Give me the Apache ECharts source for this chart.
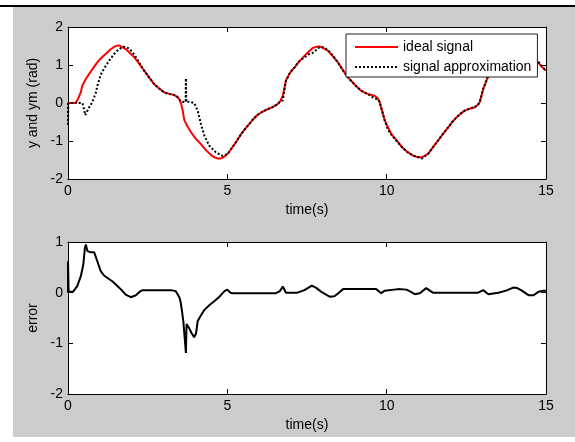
<!DOCTYPE html>
<html>
<head>
<meta charset="utf-8">
<script src="https://cdn.jsdelivr.net/npm/echarts@6/dist/echarts.min.js"></script>
<style>
  html, body { margin: 0; padding: 0; background: #fff; }
  #chart { width: 575px; height: 442px; }
</style>
</head>
<body>
<div id="chart"></div>
<script>
// ideal signal y(t)
const tIdeal = [0, 0.24, 0.32, 0.40, 0.45, 0.55, 0.66, 0.80, 0.92, 1.05,
  1.18, 1.32, 1.45, 1.55, 1.62, 1.70, 1.81, 1.95, 2.08, 2.24,
  2.39, 2.55, 2.70, 2.86, 3.02, 3.18, 3.33, 3.42, 3.49, 3.55,
  3.60, 3.65, 3.75, 3.86, 4.00, 4.17, 4.33, 4.49, 4.60, 4.70,
  4.80, 4.91, 5.02, 5.12, 5.28, 5.43, 5.56, 5.69, 5.82, 5.95,
  6.10, 6.27, 6.42, 6.58, 6.66, 6.74, 6.84, 6.97, 7.11, 7.26,
  7.42, 7.55, 7.68, 7.80, 7.89, 8.00, 8.15, 8.30, 8.47, 8.62,
  8.78, 9.00, 9.20, 9.40, 9.62, 9.72, 9.78, 9.86, 9.94, 10.04,
  10.15, 10.36, 10.50, 10.67, 10.82, 10.98, 11.10, 11.30, 11.45, 11.61,
  11.77, 11.93, 12.06, 12.19, 12.32, 12.45, 12.60, 12.77, 12.86, 12.92,
  13.03, 13.19, 13.40, 13.70, 14.00, 14.20, 14.45, 14.70, 14.85, 15.00];
const yIdeal = [0, 0, 0.12, 0.28, 0.46, 0.62, 0.76, 0.93, 1.07, 1.19,
  1.29, 1.40, 1.48, 1.51, 1.51, 1.47, 1.42, 1.31, 1.20, 1.03,
  0.85, 0.67, 0.50, 0.38, 0.28, 0.24, 0.21, 0.17, 0.10, -0.02,
  -0.20, -0.45, -0.62, -0.77, -0.93, -1.08, -1.24, -1.37, -1.43, -1.46,
  -1.46, -1.41, -1.33, -1.21, -1.02, -0.82, -0.68, -0.55, -0.42, -0.31,
  -0.23, -0.16, -0.11, -0.03, 0.05, 0.19, 0.59, 0.80, 0.94, 1.10,
  1.24, 1.35, 1.45, 1.48, 1.49, 1.45, 1.38, 1.24, 1.07, 0.87,
  0.68, 0.48, 0.32, 0.24, 0.19, 0.13, 0.02, -0.22, -0.45, -0.64,
  -0.82, -1.03, -1.18, -1.30, -1.38, -1.43, -1.43, -1.34, -1.17, -0.99,
  -0.81, -0.64, -0.50, -0.38, -0.28, -0.20, -0.15, -0.11, -0.05, 0.02,
  0.37, 0.72, 1.00, 1.30, 1.46, 1.50, 1.40, 1.12, 0.97, 0.85];

// signal approximation ym(t)
const tApprox = [0, 0, 0.01, 0.45, 0.50, 0.54, 0.60, 0.66, 0.71, 0.76,
  0.82, 0.87, 0.92, 1.03, 1.14, 1.24, 1.35, 1.45, 1.55, 1.65,
  1.74, 1.83, 1.92, 2.00, 2.08, 2.16, 2.24, 2.39, 2.55, 2.70,
  2.86, 3.02, 3.18, 3.33, 3.42, 3.49, 3.55, 3.69, 3.70, 3.71,
  3.80, 3.96, 4.07, 4.17, 4.28, 4.43, 4.64, 4.85, 5.01, 5.12,
  5.28, 5.43, 5.56, 5.69, 5.82, 5.95, 6.10, 6.27, 6.42, 6.58,
  6.66, 6.74, 6.84, 6.97, 7.11, 7.26, 7.42, 7.55, 7.68, 7.80,
  7.89, 8.00, 8.15, 8.30, 8.47, 8.62, 8.78, 9.00, 9.20, 9.40,
  9.62, 9.72, 9.78, 9.86, 9.94, 10.04, 10.15, 10.36, 10.50, 10.67,
  10.82, 10.98, 11.10, 11.30, 11.45, 11.61, 11.77, 11.93, 12.06, 12.19,
  12.32, 12.45, 12.60, 12.77, 12.86, 12.92, 13.03, 13.19, 13.40, 13.70,
  14.00, 14.20, 14.45, 14.70, 14.85, 15.00];
const yApprox = [0, -0.60, 0, 0, -0.15, -0.32, -0.22, -0.12, -0.07, 0.02,
  0.15, 0.26, 0.45, 0.75, 0.92, 1.05, 1.18, 1.29, 1.38, 1.44,
  1.48, 1.47, 1.43, 1.36, 1.27, 1.17, 1.05, 0.85, 0.67, 0.50,
  0.38, 0.28, 0.24, 0.21, 0.17, 0.10, 0.04, 0.02, 0.65, 0.03,
  0.03, 0.00, -0.20, -0.55, -0.86, -1.12, -1.30, -1.39, -1.34, -1.21,
  -1.02, -0.82, -0.68, -0.55, -0.42, -0.31, -0.23, -0.16, -0.11, -0.03,
  0.04, 0.07, 0.59, 0.80, 0.94, 1.10, 1.20, 1.28, 1.32, 1.40,
  1.47, 1.47, 1.40, 1.26, 1.07, 0.87, 0.68, 0.48, 0.32, 0.24,
  0.12, 0.10, 0.03, -0.22, -0.47, -0.70, -0.84, -1.05, -1.18, -1.30,
  -1.38, -1.42, -1.46, -1.34, -1.17, -0.99, -0.81, -0.64, -0.50, -0.38,
  -0.28, -0.20, -0.15, -0.10, -0.05, 0.02, 0.37, 0.72, 1.00, 1.28,
  1.42, 1.48, 1.42, 1.14, 0.99, 0.84];

// error = y - ym
const tErr = [0, 0, 0.02, 0.16, 0.29, 0.40, 0.48, 0.53, 0.56, 0.61,
  0.70, 0.82, 0.92, 1.03, 1.13, 1.24, 1.40, 1.55, 1.70, 1.81,
  1.97, 2.13, 2.25, 2.34, 2.70, 3.23, 3.38, 3.44, 3.50, 3.54,
  3.58, 3.62, 3.68, 3.70, 3.72, 3.80, 3.88, 3.96, 4.02, 4.07,
  4.17, 4.28, 4.45, 4.59, 4.75, 4.91, 5.00, 5.10, 5.17, 6.53,
  6.65, 6.74, 6.84, 7.20, 7.42, 7.55, 7.65, 7.80, 7.94, 8.10,
  8.21, 8.36, 8.50, 8.63, 9.67, 9.83, 9.94, 10.00, 10.36, 10.62,
  10.75, 10.88, 11.04, 11.24, 11.45, 12.87, 13.03, 13.19, 13.50, 13.75,
  13.97, 14.10, 14.24, 14.45, 14.61, 14.77, 14.93, 15.00];
const vErr = [0, 0.62, 0.02, 0.02, 0.13, 0.32, 0.55, 0.88, 0.95, 0.82,
  0.80, 0.80, 0.62, 0.42, 0.34, 0.29, 0.22, 0.13, 0.04, -0.04,
  -0.09, -0.05, 0.02, 0.05, 0.05, 0.05, 0.03, -0.03, -0.10, -0.20,
  -0.38, -0.57, -0.60, -1.19, -0.62, -0.70, -0.80, -0.88, -0.80, -0.56,
  -0.45, -0.34, -0.24, -0.17, -0.08, 0.03, 0.06, 0.00, -0.01, -0.01,
  0.03, 0.12, 0.00, 0.00, 0.05, 0.10, 0.14, 0.09, 0.02, -0.04,
  -0.08, -0.07, 0.00, 0.07, 0.07, -0.01, 0.04, 0.07, 0.07, 0.06,
  0.02, -0.03, -0.01, 0.09, 0.00, 0.00, 0.05, -0.03, 0.00, 0.04,
  0.10, 0.09, 0.04, -0.05, -0.05, 0.02, 0.04, 0.04];

const xTicks = [0, 5, 10, 15];
const legendNames = ['ideal signal', 'signal approximation'];

const zip = (xs, ys) => xs.map((x, i) => [x, ys[i]]);

const FONT = '"Liberation Sans", Arial, sans-serif';
const FS = 14;

const chart = echarts.init(document.getElementById('chart'), null, { renderer: 'canvas' });

const xAx = (g, pos, name) => ({
  type: 'value', gridIndex: g, position: pos,
  min: xTicks[0], max: xTicks[xTicks.length - 1], interval: 5,
  name: name, nameLocation: 'middle', nameGap: 24,
  nameTextStyle: { color: '#000', fontFamily: FONT, fontSize: FS },
  axisLine: { show: true, onZero: false, lineStyle: { color: '#000', width: 1 } },
  axisTick: { show: true, inside: true, length: 5, lineStyle: { color: '#000' } },
  axisLabel: { show: pos === 'bottom', color: '#000', fontFamily: FONT, fontSize: FS, margin: 5 },
  splitLine: { show: false }
});

const yAx = (g, pos, name, min, max) => ({
  type: 'value', gridIndex: g, position: pos,
  min: min, max: max, interval: 1,
  name: name, nameLocation: 'middle', nameGap: 19,
  nameTextStyle: { color: '#000', fontFamily: FONT, fontSize: FS },
  axisLine: { show: true, onZero: false, lineStyle: { color: '#000', width: 1 } },
  axisTick: { show: true, inside: true, length: 5, lineStyle: { color: '#000' } },
  axisLabel: { show: pos === 'left', color: '#000', fontFamily: FONT, fontSize: FS, margin: 5 },
  splitLine: { show: false }
});

const option = {
  animation: false,
  backgroundColor: '#fff',
  graphic: [
    { type: 'rect', z: -100, shape: { x: 13, y: 7, width: 562, height: 430 }, style: { fill: '#cccccc' } },
    { type: 'line', z: -99, shape: { x1: 0, y1: 6, x2: 575, y2: 6 }, style: { stroke: '#000', lineWidth: 2 } }
  ],
  grid: [
    { left: 68, top: 27, width: 478, height: 152, show: true, backgroundColor: '#fff', borderWidth: 0 },
    { left: 68, top: 242, width: 478, height: 152, show: true, backgroundColor: '#fff', borderWidth: 0 }
  ],
  legend: {
    data: legendNames,
    orient: 'vertical',
    left: 346, top: 34,
    backgroundColor: '#fff',
    borderColor: '#222', borderWidth: 1, borderRadius: 0,
    padding: [6, 6, 3, 8],
    itemWidth: 43, itemHeight: 14, itemGap: 6,
    itemStyle: { opacity: 0 },
    textStyle: { color: '#000', fontFamily: FONT, fontSize: FS }
  },
  xAxis: [
    xAx(0, 'bottom', 'time(s)'), xAx(0, 'top', ''),
    xAx(1, 'bottom', 'time(s)'), xAx(1, 'top', '')
  ],
  yAxis: [
    yAx(0, 'left', 'y and ym (rad)', -2, 2), yAx(0, 'right', '', -2, 2),
    yAx(1, 'left', 'error', -2, 1), yAx(1, 'right', '', -2, 1)
  ],
  series: [
    {
      name: legendNames[0], type: 'line', xAxisIndex: 0, yAxisIndex: 0,
      data: zip(tIdeal, yIdeal), showSymbol: false, symbol: 'none',
      lineStyle: { color: '#ff0000', width: 2 }, itemStyle: { color: '#ff0000' }
    },
    {
      name: legendNames[1], type: 'line', xAxisIndex: 0, yAxisIndex: 0,
      data: zip(tApprox, yApprox), showSymbol: false, symbol: 'none',
      lineStyle: { color: '#000', width: 2, type: [2, 2] }, itemStyle: { color: '#000' }
    },
    {
      name: 'error', type: 'line', xAxisIndex: 2, yAxisIndex: 2,
      data: zip(tErr, vErr), showSymbol: false, symbol: 'none',
      lineStyle: { color: '#000', width: 2 }, itemStyle: { color: '#000' }
    }
  ]
};

option && chart.setOption(option);
</script>
</body>
</html>
